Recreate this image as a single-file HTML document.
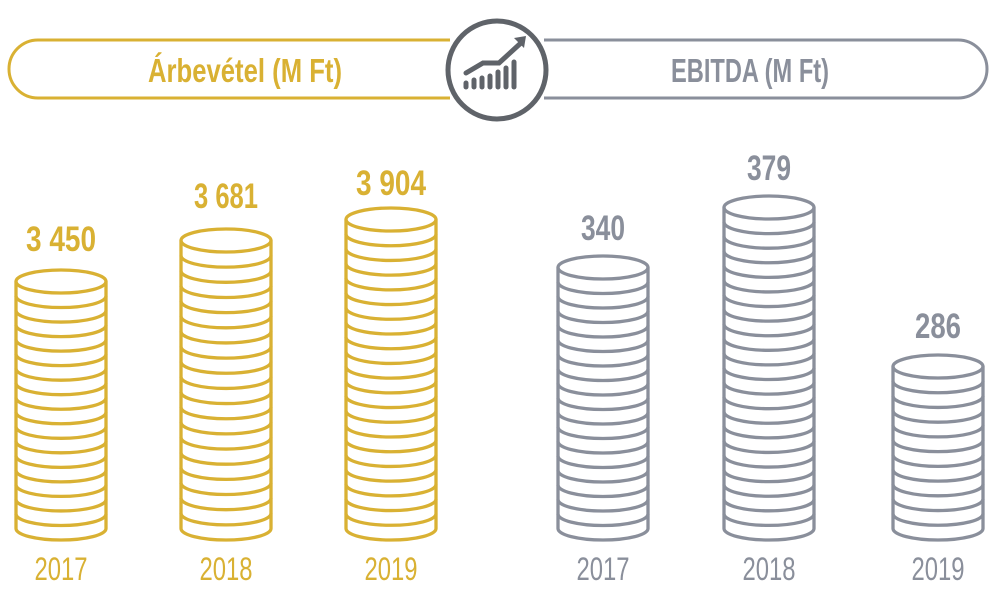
<!DOCTYPE html>
<html><head><meta charset="utf-8"><style>
html,body{margin:0;padding:0;background:#fff;}
svg{display:block;}
text{font-family:"Liberation Sans Narrow","Liberation Sans",sans-serif;}
</style></head><body>
<svg id="s" width="993" height="592" viewBox="0 0 993 592" xmlns="http://www.w3.org/2000/svg">
<rect x="9" y="40" width="480" height="58" rx="29" fill="#fff" stroke="#d9b133" stroke-width="3"/>
<rect x="506" y="40" width="481" height="58" rx="29" fill="#fff" stroke="#8a8f9b" stroke-width="3"/>
<rect x="450" y="38" width="94" height="62" fill="#fff"/>
<circle cx="497" cy="70" r="49" fill="#fff" stroke="#5f6369" stroke-width="5"/>
<g stroke="#5f6369" stroke-width="5" stroke-linecap="round" fill="none">
<line x1="466" y1="87" x2="466" y2="83"/>
<line x1="474" y1="87" x2="474" y2="80"/>
<line x1="482" y1="87" x2="482" y2="78"/>
<line x1="490" y1="87" x2="490" y2="76"/>
<line x1="498" y1="87" x2="498" y2="72"/>
<line x1="506" y1="87" x2="506" y2="68"/>
<line x1="514" y1="87" x2="514" y2="62"/>
<polyline points="466,73 483,63 499,63 522,42"/>
</g>
<polygon points="514,38 526,36 524,48" fill="#5f6369"/>
<text x="245" y="82" text-anchor="middle" font-size="33" font-weight="bold" fill="#d9b133" textLength="194" lengthAdjust="spacingAndGlyphs">Árbevétel (M Ft)</text>
<text x="750" y="82" text-anchor="middle" font-size="33" font-weight="bold" fill="#8a8f9b" textLength="158" lengthAdjust="spacingAndGlyphs">EBITDA (M Ft)</text>
<g id="stacks"></g>
</svg>
<script>
const data=[
 [61,270,"3 450","2017","#d9b133",251,70],
 [226,229,"3 681","2018","#d9b133",208,64],
 [391,208,"3 904","2019","#d9b133",195,70],
 [603,256,"340","2017","#8a8f9b",240,44],
 [769,196,"379","2018","#8a8f9b",180,44],
 [938,355,"286","2019","#8a8f9b",338,46]
];
const g=document.getElementById('stacks');
let h="";
const rx=45,ry=11.5,bottom=540,sp=14.8;
for(const [cx,top,val,yr,col,ly,w] of data){
 const cy=top+ry;
 const by=bottom-ry;
 h+=`<ellipse cx="${cx}" cy="${cy}" rx="${rx}" ry="${ry}" fill="none" stroke="${col}" stroke-width="3.3"/>`;
 h+=`<line x1="${cx-rx}" y1="${cy}" x2="${cx-rx}" y2="${by}" stroke="${col}" stroke-width="3.3"/>`;
 h+=`<line x1="${cx+rx}" y1="${cy}" x2="${cx+rx}" y2="${by}" stroke="${col}" stroke-width="3.3"/>`;
 const n=Math.round((by-cy)/sp);
 const step=(by-cy)/n;
 for(let k=1;k<=n;k++){
  const y=cy+k*step;
  h+=`<path d="M${cx-rx},${y} A${rx},${ry} 0 0 0 ${cx+rx},${y}" fill="none" stroke="${col}" stroke-width="3.3"/>`;
 }
 h+=`<text x="${cx}" y="${ly}" text-anchor="middle" font-size="35" font-weight="bold" fill="${col}" textLength="${w}" lengthAdjust="spacingAndGlyphs">${val}</text>`;
 h+=`<text x="${cx}" y="580" text-anchor="middle" font-size="32" fill="${col}" textLength="53" lengthAdjust="spacingAndGlyphs">${yr}</text>`;
}
g.innerHTML=h;
</script>
</body></html>
